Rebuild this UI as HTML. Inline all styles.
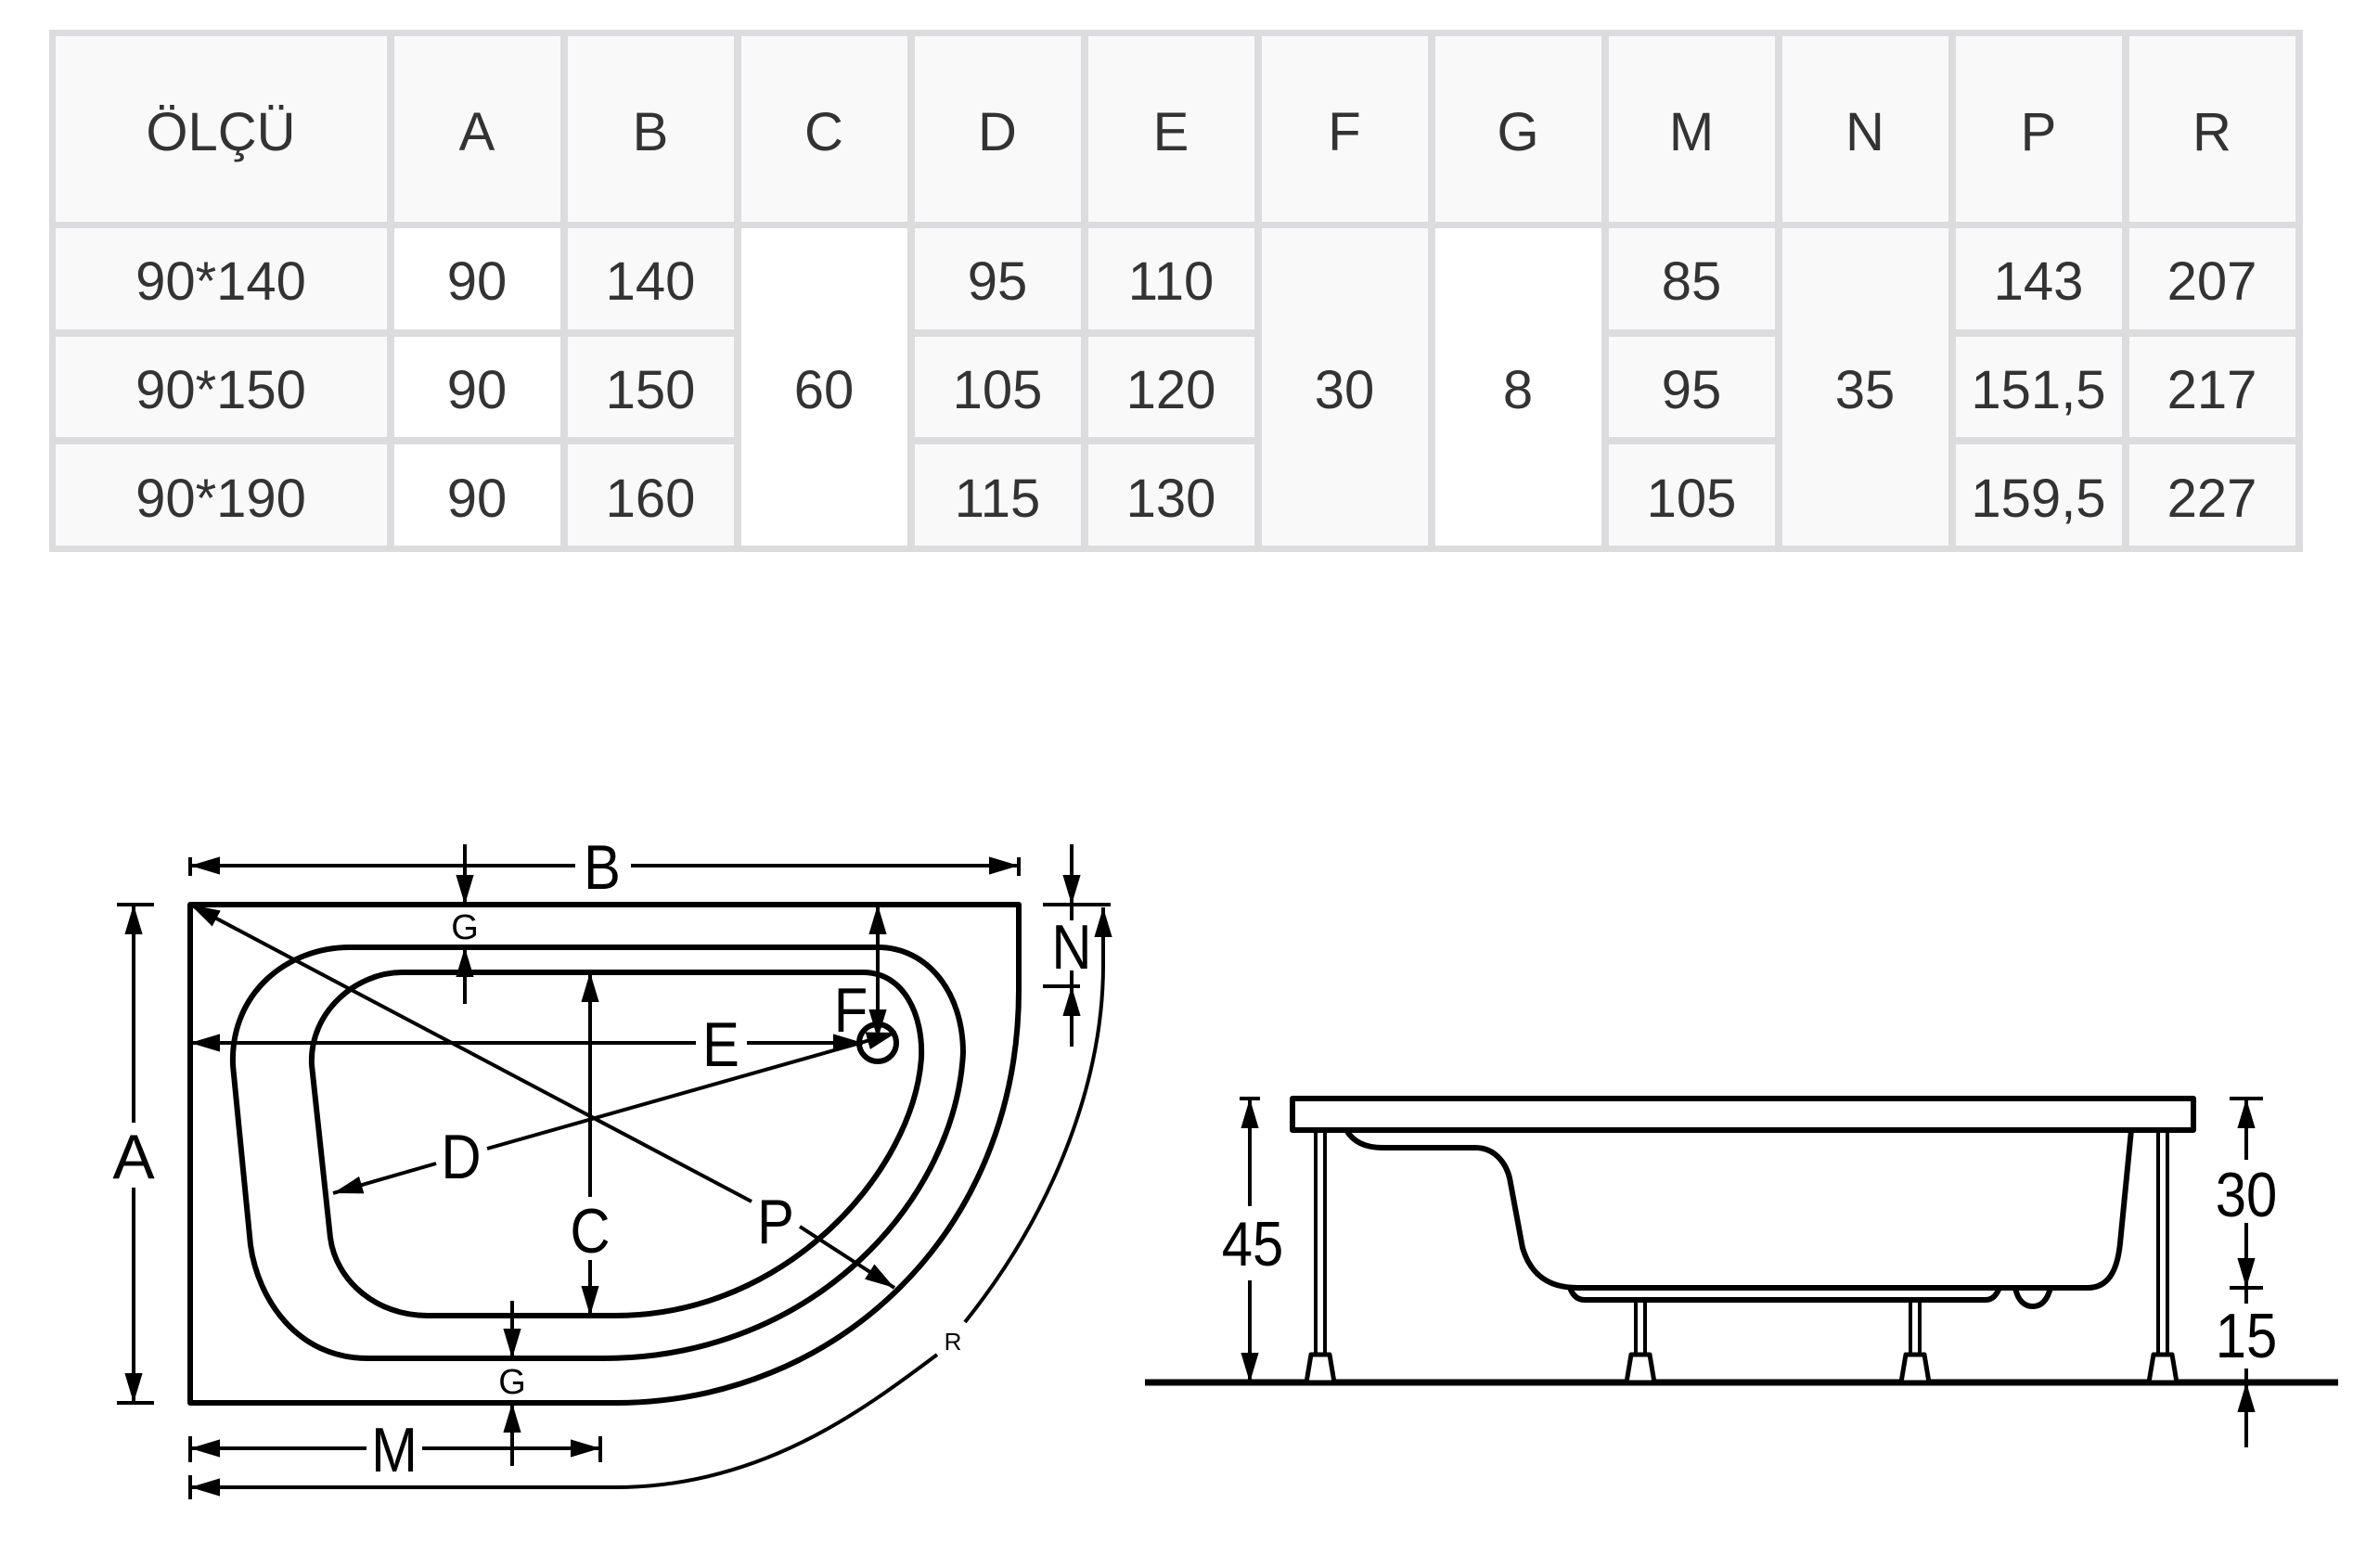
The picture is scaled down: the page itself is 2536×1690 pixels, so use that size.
<!DOCTYPE html>
<html><head><meta charset="utf-8"><style>
html,body{margin:0;padding:0;background:#fff;width:2536px;height:1690px;overflow:hidden}
svg{display:block}
.t{font-family:"Liberation Sans",sans-serif;font-size:58px;fill:#333;text-anchor:middle}
.l{font-family:"Liberation Sans Narrow","Liberation Sans",sans-serif;fill:#000;text-anchor:middle}
</style></head><body>
<svg width="2536" height="1690" viewBox="0 0 2536 1690" xmlns="http://www.w3.org/2000/svg">
<defs>
<marker id="a" viewBox="0 0 10 10" refX="10" refY="5" markerWidth="32" markerHeight="32" markerUnits="userSpaceOnUse" orient="auto-start-reverse">
<path d="M0,2 L10,5 L0,8 Z" fill="#000"/></marker>
</defs>
<!-- TABLE -->
<rect x="53" y="32" width="2429" height="563" fill="#dcdcde"/>
<g fill="#f9f9f9">
<rect x="60" y="39" width="357" height="200"/>
<rect x="425" y="39" width="179" height="200"/><rect x="612" y="39" width="179" height="200"/><rect x="799" y="39" width="179" height="200"/><rect x="986" y="39" width="179" height="200"/><rect x="1173" y="39" width="179" height="200"/><rect x="1360" y="39" width="179" height="200"/><rect x="1547" y="39" width="179" height="200"/><rect x="1734" y="39" width="179" height="200"/><rect x="1921" y="39" width="179" height="200"/><rect x="2108" y="39" width="179" height="200"/><rect x="2295" y="39" width="179" height="200"/>
<rect x="60" y="246" width="357" height="109"/><rect x="60" y="363" width="357" height="108"/><rect x="60" y="479" width="357" height="109"/>
<rect x="425" y="246" width="179" height="109" fill="#fff"/><rect x="425" y="363" width="179" height="108" fill="#fff"/><rect x="425" y="479" width="179" height="109" fill="#fff"/>
<rect x="612" y="246" width="179" height="109"/><rect x="612" y="363" width="179" height="108"/><rect x="612" y="479" width="179" height="109"/>
<rect x="799" y="246" width="179" height="342" fill="#fff"/>
<rect x="986" y="246" width="179" height="109"/><rect x="986" y="363" width="179" height="108"/><rect x="986" y="479" width="179" height="109"/>
<rect x="1173" y="246" width="179" height="109"/><rect x="1173" y="363" width="179" height="108"/><rect x="1173" y="479" width="179" height="109"/>
<rect x="1360" y="246" width="179" height="342"/>
<rect x="1547" y="246" width="179" height="342" fill="#fff"/>
<rect x="1734" y="246" width="179" height="109"/><rect x="1734" y="363" width="179" height="108"/><rect x="1734" y="479" width="179" height="109"/>
<rect x="1921" y="246" width="179" height="342"/>
<rect x="2108" y="246" width="179" height="109"/><rect x="2108" y="363" width="179" height="108"/><rect x="2108" y="479" width="179" height="109"/>
<rect x="2295" y="246" width="179" height="109"/><rect x="2295" y="363" width="179" height="108"/><rect x="2295" y="479" width="179" height="109"/>
</g>
<g class="t">
<text x="238" y="162">ÖLÇÜ</text><text x="514" y="162">A</text><text x="701" y="162">B</text><text x="888" y="162">C</text><text x="1075" y="162">D</text><text x="1262" y="162">E</text><text x="1449" y="162">F</text><text x="1636" y="162">G</text><text x="1823" y="162">M</text><text x="2010" y="162">N</text><text x="2197" y="162">P</text><text x="2384" y="162">R</text>
<text x="238" y="323">90*140</text><text x="514" y="323">90</text><text x="701" y="323">140</text><text x="1075" y="323">95</text><text x="1262" y="323">110</text><text x="1823" y="323">85</text><text x="2197" y="323">143</text><text x="2384" y="323">207</text>
<text x="238" y="440">90*150</text><text x="514" y="440">90</text><text x="701" y="440">150</text><text x="888" y="440">60</text><text x="1075" y="440">105</text><text x="1262" y="440">120</text><text x="1449" y="440">30</text><text x="1636" y="440">8</text><text x="1823" y="440">95</text><text x="2010" y="440">35</text><text x="2197" y="440">151,5</text><text x="2384" y="440">217</text>
<text x="238" y="557">90*190</text><text x="514" y="557">90</text><text x="701" y="557">160</text><text x="1075" y="557">115</text><text x="1262" y="557">130</text><text x="1823" y="557">105</text><text x="2197" y="557">159,5</text><text x="2384" y="557">227</text>
</g>

<!-- TOP VIEW -->
<g fill="none" stroke="#000" stroke-width="6" stroke-linejoin="round">
<path d="M205,975 L1098,975 L1098,1067 C1098,1330 900,1512 663,1512 L205,1512 Z"/>
<path d="M377,1021 L946,1021 C1000,1021 1038,1070 1038,1135 C1030,1290 880,1464 650,1464 L396,1464 C320,1464 278,1400 270,1342 L251,1148 C248,1070 310,1021 377,1021 Z"/>
<path d="M433,1048 L930,1048 C975,1048 995,1095 993,1140 C985,1260 850,1418 663,1418 L461,1418 C405,1418 362,1380 356,1334 L336,1148 C333,1090 385,1048 433,1048 Z"/>
</g>
<g fill="none" stroke="#000" stroke-width="4">
<line x1="205" y1="924" x2="205" y2="944"/><line x1="1098" y1="924" x2="1098" y2="944"/>
<line x1="205" y1="933" x2="620" y2="933" marker-start="url(#a)"/><line x1="680" y1="933" x2="1098" y2="933" marker-end="url(#a)"/>
<line x1="501" y1="910" x2="501" y2="975" marker-end="url(#a)"/><line x1="501" y1="1082" x2="501" y2="1021" marker-end="url(#a)"/>
<line x1="552" y1="1402" x2="552" y2="1464" marker-end="url(#a)"/><line x1="552" y1="1580" x2="552" y2="1512" marker-end="url(#a)"/>
<line x1="205" y1="1548" x2="205" y2="1576"/><line x1="647" y1="1548" x2="647" y2="1576"/>
<line x1="205" y1="1561" x2="395" y2="1561" marker-start="url(#a)"/><line x1="455" y1="1561" x2="647" y2="1561" marker-end="url(#a)"/>
<line x1="205" y1="1590" x2="205" y2="1616"/>
<path d="M205,1603 L663,1603 C820,1603 930,1520 1010,1460" marker-start="url(#a)"/>
<path d="M1040,1425 C1140,1300 1189,1160 1189,1040 L1189,978" marker-end="url(#a)"/>
<line x1="1124" y1="975" x2="1197" y2="975"/><line x1="1124" y1="1063" x2="1164" y2="1063"/>
<line x1="1155" y1="910" x2="1155" y2="975" marker-end="url(#a)"/><line x1="1155" y1="975" x2="1155" y2="992"/>
<line x1="1155" y1="1128" x2="1155" y2="1063" marker-end="url(#a)"/><line x1="1155" y1="1063" x2="1155" y2="1046"/>
<line x1="126" y1="975" x2="166" y2="975"/><line x1="126" y1="1512" x2="166" y2="1512"/>
<line x1="144" y1="975" x2="144" y2="1210" marker-start="url(#a)"/><line x1="144" y1="1280" x2="144" y2="1512" marker-end="url(#a)"/>
<line x1="205" y1="1124" x2="750" y2="1124" marker-start="url(#a)"/><line x1="805" y1="1124" x2="930" y2="1124" marker-end="url(#a)"/>
<line x1="946" y1="975" x2="946" y2="1120" marker-start="url(#a)" marker-end="url(#a)"/>
<line x1="636" y1="1048" x2="636" y2="1290" marker-start="url(#a)"/><line x1="636" y1="1358" x2="636" y2="1418" marker-end="url(#a)"/>
<line x1="359" y1="1286" x2="470" y2="1254" marker-start="url(#a)"/><line x1="525" y1="1238" x2="966" y2="1113" marker-end="url(#a)"/>
<line x1="205" y1="975" x2="810" y2="1295" marker-start="url(#a)"/><line x1="862" y1="1322" x2="964" y2="1388" marker-end="url(#a)"/>
</g>
<circle cx="946" cy="1124" r="20" fill="none" stroke="#000" stroke-width="6"/>
<g class="l">
<text x="649" y="958" font-size="68" transform="translate(649 0) scale(0.88 1) translate(-649 0)">B</text>
<text x="501" y="1012" font-size="38">G</text>
<text x="552" y="1502" font-size="38">G</text>
<text x="425" y="1586" font-size="68" transform="translate(425 0) scale(0.88 1) translate(-425 0)">M</text>
<text x="1027" y="1455" font-size="26">R</text>
<text x="1155" y="1044" font-size="68" transform="translate(1155 0) scale(0.88 1) translate(-1155 0)">N</text>
<text x="144" y="1270" font-size="68">A</text>
<text x="777" y="1149" font-size="68" transform="translate(777 0) scale(0.88 1) translate(-777 0)">E</text>
<text x="917" y="1112" font-size="68" transform="translate(917 0) scale(0.88 1) translate(-917 0)">F</text>
<text x="636" y="1350" font-size="68" transform="translate(636 0) scale(0.88 1) translate(-636 0)">C</text>
<text x="497" y="1270" font-size="68" transform="translate(497 0) scale(0.88 1) translate(-497 0)">D</text>
<text x="836" y="1340" font-size="68" transform="translate(836 0) scale(0.88 1) translate(-836 0)">P</text>
</g>

<!-- SIDE VIEW -->
<g fill="none" stroke="#000" stroke-width="6" stroke-linejoin="round">
<rect x="1393" y="1184" width="971" height="34"/>
<line x1="1234" y1="1490" x2="2520" y2="1490" stroke-width="7"/>
<path d="M1451,1218 C1458,1230 1470,1237 1490,1237 L1590,1237 C1612,1237 1625,1255 1628,1275 L1641,1345 C1650,1375 1670,1388 1700,1388 L2250,1388 C2272,1388 2282,1370 2285,1340 L2297,1218"/>
<path d="M1692,1388 C1695,1396 1700,1401 1708,1401 L2140,1401 C2148,1401 2152,1395 2155,1388"/>
<path d="M2172,1388 C2175,1403 2183,1408 2191,1408 C2199,1408 2206,1403 2210,1388"/>
</g>
<g stroke="#000" stroke-width="4" fill="none">
<line x1="1418" y1="1218" x2="1418" y2="1460"/><line x1="1428" y1="1218" x2="1428" y2="1460"/>
<line x1="1763" y1="1401" x2="1763" y2="1460"/><line x1="1773" y1="1401" x2="1773" y2="1460"/>
<line x1="2059" y1="1401" x2="2059" y2="1460"/><line x1="2069" y1="1401" x2="2069" y2="1460"/>
<line x1="2326" y1="1218" x2="2326" y2="1460"/><line x1="2336" y1="1218" x2="2336" y2="1460"/>
</g>
<g fill="#fff" stroke="#000" stroke-width="5" stroke-linejoin="round">
<path d="M1413,1460 L1433,1460 L1438,1490 L1408,1490 Z"/>
<path d="M1758,1460 L1778,1460 L1783,1490 L1753,1490 Z"/>
<path d="M2054,1460 L2074,1460 L2079,1490 L2049,1490 Z"/>
<path d="M2321,1460 L2341,1460 L2346,1490 L2316,1490 Z"/>
</g>
<g fill="none" stroke="#000" stroke-width="4">
<line x1="1336" y1="1184" x2="1358" y2="1184"/>
<line x1="1347" y1="1184" x2="1347" y2="1300" marker-start="url(#a)"/><line x1="1347" y1="1380" x2="1347" y2="1490" marker-end="url(#a)"/>
<line x1="2403" y1="1184" x2="2439" y2="1184"/><line x1="2403" y1="1388" x2="2439" y2="1388"/>
<line x1="2421" y1="1184" x2="2421" y2="1250" marker-start="url(#a)"/><line x1="2421" y1="1318" x2="2421" y2="1388" marker-end="url(#a)"/>
<line x1="2421" y1="1388" x2="2421" y2="1405"/>
<line x1="2421" y1="1560" x2="2421" y2="1490" marker-end="url(#a)"/><line x1="2421" y1="1490" x2="2421" y2="1475"/>
</g>
<g class="l" font-size="68">
<text x="1350" y="1364" transform="translate(1350 0) scale(0.88 1) translate(-1350 0)">45</text>
<text x="2421" y="1311" transform="translate(2421 0) scale(0.88 1) translate(-2421 0)">30</text>
<text x="2421" y="1463" transform="translate(2421 0) scale(0.88 1) translate(-2421 0)">15</text>
</g>
</svg>
</body></html>
